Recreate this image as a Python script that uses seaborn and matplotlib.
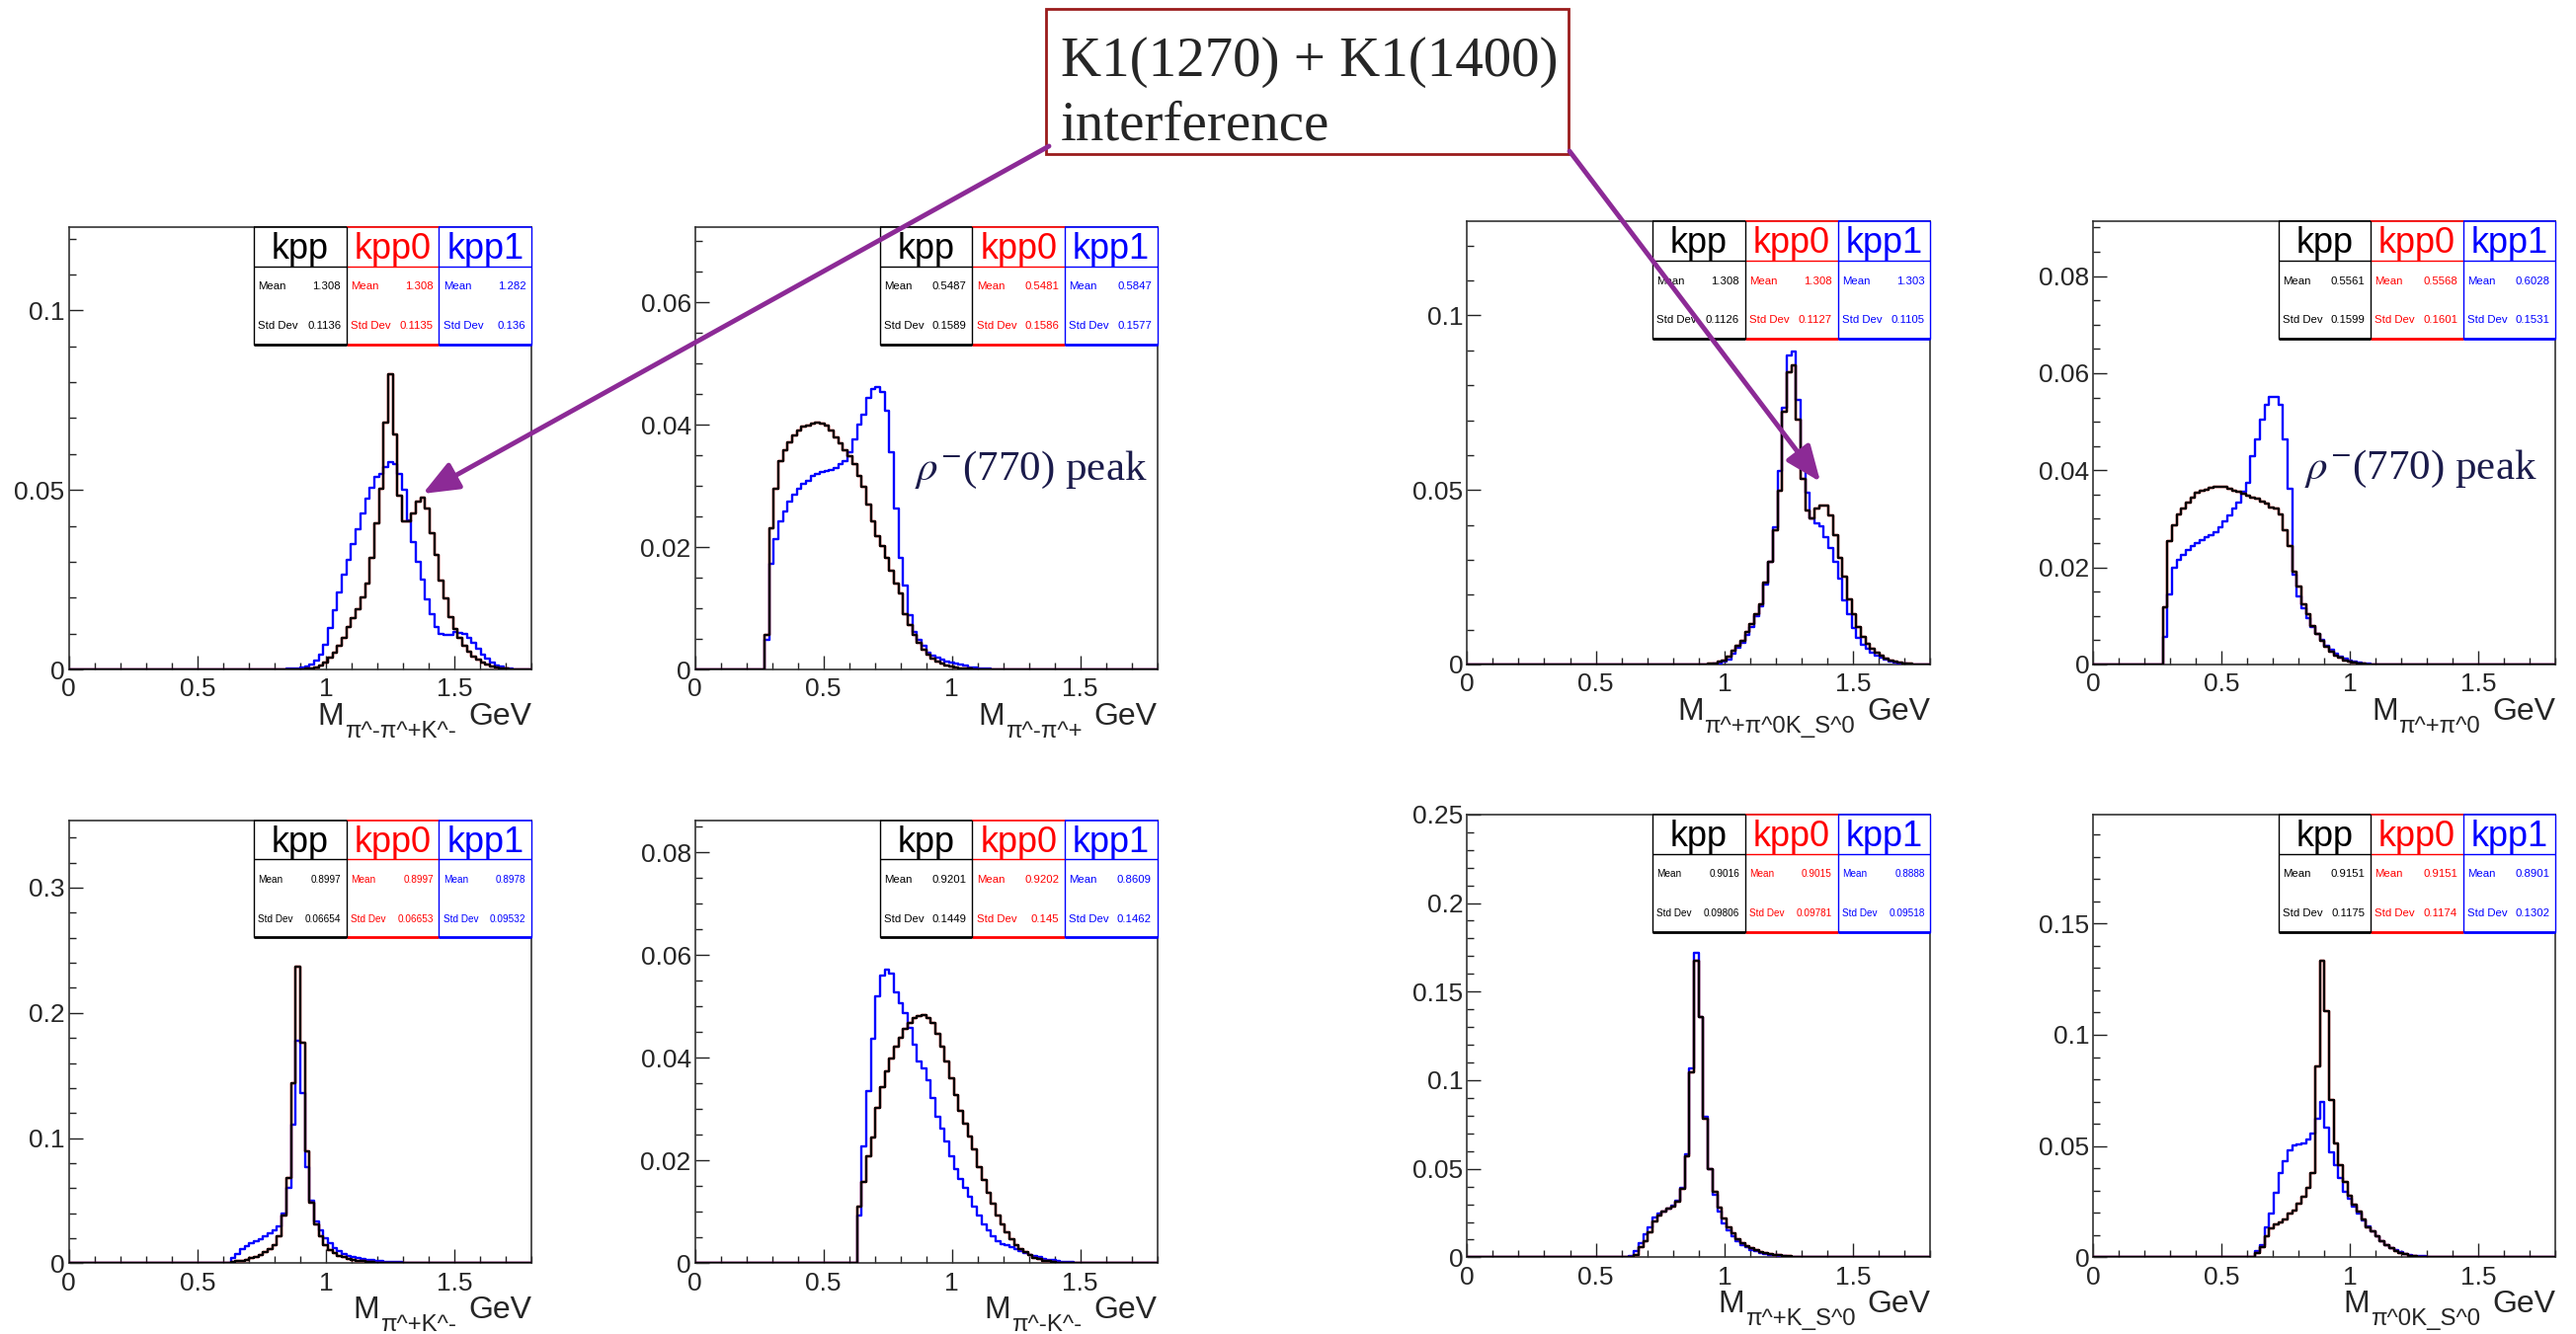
import numpy as np
import pandas as pd
import matplotlib
matplotlib.use("Agg")
import matplotlib.pyplot as plt
import seaborn as sns
from matplotlib.patches import Rectangle, FancyArrowPatch, ArrowStyle
from matplotlib.ticker import MultipleLocator, FuncFormatter

sns.set_style("white")
plt.rcParams["font.family"] = ["Liberation Sans", "DejaVu Sans"]
plt.rcParams["mathtext.fontset"] = "stix"

# ---------------- data ----------------
N_BINS = 100
X_MAX = 1.8

SERIES = ["kpp", "kpp0", "kpp1"]
SUBSCRIPTS = ["π^-π^+K^-", "π^-π^+", "π^+π^0K_S^0", "π^+π^0",
              "π^+K^-", "π^-K^-", "π^+K_S^0", "π^0K_S^0"]
Y_MAX = [0.1232, 0.0723, 0.127, 0.0913, 0.354, 0.0863, 0.25, 0.199]
Y_MAJOR = [0.05, 0.02, 0.05, 0.02, 0.1, 0.02, 0.05, 0.05]
Y_MINOR = [0.01, 0.005, 0.01, 0.005, 0.02, 0.005, 0.01, 0.01]

MEANS = [["1.308", "1.308", "1.282"], ["0.5487", "0.5481", "0.5847"],
         ["1.308", "1.308", "1.303"], ["0.5561", "0.5568", "0.6028"],
         ["0.8997", "0.8997", "0.8978"], ["0.9201", "0.9202", "0.8609"],
         ["0.9016", "0.9015", "0.8888"], ["0.9151", "0.9151", "0.8901"]]
STDS = [["0.1136", "0.1135", "0.136"], ["0.1589", "0.1586", "0.1577"],
        ["0.1126", "0.1127", "0.1105"], ["0.1599", "0.1601", "0.1531"],
        ["0.06654", "0.06653", "0.09532"], ["0.1449", "0.145", "0.1462"],
        ["0.09806", "0.09781", "0.09518"], ["0.1175", "0.1174", "0.1302"]]

# panel 1: M(pi- pi+ K-)
P1_KPP_START = 0.864
P1_KPP = [0.0001, 0.0001, 0.0001, 0.0002, 0.0004, 0.0006, 0.0012, 0.0020, 0.0032, 0.0046,
          0.0067, 0.0087, 0.0119, 0.0142, 0.0169, 0.0201, 0.0238, 0.0311, 0.0408, 0.0504,
          0.0687, 0.0822, 0.0655, 0.0485, 0.0412, 0.0412, 0.0435, 0.0467, 0.0479, 0.0449,
          0.0380, 0.0320, 0.0247, 0.0197, 0.0147, 0.0114, 0.0087, 0.0067, 0.0050, 0.0037,
          0.0027, 0.0019, 0.0013, 0.0008, 0.0005, 0.0003, 0.0002, 0.0001]
P1_KPP0_START = P1_KPP_START
P1_KPP0 = P1_KPP
P1_KPP1_START = 0.846
P1_KPP1 = [0.0002, 0.0003, 0.0004, 0.0006, 0.0009, 0.0014, 0.0024, 0.0040, 0.0070, 0.0115,
           0.0165, 0.0215, 0.0265, 0.0305, 0.0350, 0.0390, 0.0435, 0.0475, 0.0505, 0.0535,
           0.0545, 0.0565, 0.0578, 0.0572, 0.0545, 0.0500, 0.0415, 0.0355, 0.0300, 0.0250,
           0.0195, 0.0155, 0.0118, 0.0098, 0.0095, 0.0097, 0.0105, 0.0103, 0.0098, 0.0088,
           0.0075, 0.0058, 0.0042, 0.0030, 0.0020, 0.0012, 0.0007, 0.0004, 0.0002, 0.0001]

# panel 2: M(pi- pi+)
P2_KPP_START = 0.270
P2_KPP = [0.0056, 0.0231, 0.0296, 0.0341, 0.0358, 0.0371, 0.0383, 0.0391, 0.0397, 0.0399,
          0.0402, 0.0403, 0.0402, 0.0398, 0.0391, 0.0379, 0.0369, 0.0358, 0.0349, 0.0336,
          0.0317, 0.0298, 0.0269, 0.0242, 0.0218, 0.0202, 0.0183, 0.0161, 0.0140, 0.0124,
          0.0091, 0.0073, 0.0056, 0.0043, 0.0032, 0.0024, 0.0018, 0.0013, 0.0010, 0.0007,
          0.0005, 0.0003, 0.0002, 0.0001, 0.0001]
P2_KPP0_START = P2_KPP_START
P2_KPP0 = P2_KPP
P2_KPP1_START = 0.270
P2_KPP1 = [0.0048, 0.0172, 0.0213, 0.0242, 0.0258, 0.0274, 0.0285, 0.0296, 0.0304, 0.0309,
           0.0316, 0.0320, 0.0323, 0.0324, 0.0326, 0.0330, 0.0335, 0.0341, 0.0355, 0.0376,
           0.0400, 0.0417, 0.0444, 0.0459, 0.0462, 0.0454, 0.0423, 0.0355, 0.0263, 0.0183,
           0.0137, 0.0089, 0.0062, 0.0048, 0.0038, 0.0027, 0.0022, 0.0019, 0.0016, 0.0013,
           0.0011, 0.0009, 0.0008, 0.0006, 0.0004, 0.0003, 0.0002, 0.0001, 0.0001]

# panel 3: M(pi+ pi0 Ks)
P3_KPP_START = 0.900
P3_KPP = [0.0001, 0.0001, 0.0002, 0.0004, 0.0008, 0.0012, 0.0022, 0.0041, 0.0055, 0.0069,
          0.0092, 0.0116, 0.0144, 0.0173, 0.0234, 0.0295, 0.0385, 0.0498, 0.0725, 0.0838,
          0.0857, 0.0701, 0.0531, 0.0442, 0.0418, 0.0446, 0.0456, 0.0456, 0.0427, 0.0371,
          0.0305, 0.0253, 0.0187, 0.0144, 0.0107, 0.0078, 0.0059, 0.0045, 0.0034, 0.0025,
          0.0017, 0.0011, 0.0008, 0.0005, 0.0003, 0.0002, 0.0001]
P3_KPP0_START = P3_KPP_START
P3_KPP0 = P3_KPP
P3_KPP1_START = 0.918
P3_KPP1 = [0.0001, 0.0001, 0.0002, 0.0004, 0.0008, 0.0014, 0.0030, 0.0047, 0.0062, 0.0085,
           0.0108, 0.0138, 0.0168, 0.0228, 0.0295, 0.0394, 0.0555, 0.0735, 0.0885, 0.0898,
           0.0758, 0.0602, 0.0493, 0.0420, 0.0405, 0.0395, 0.0365, 0.0335, 0.0295, 0.0245,
           0.0185, 0.0144, 0.0105, 0.0075, 0.0057, 0.0044, 0.0034, 0.0026, 0.0019, 0.0013,
           0.0009, 0.0006, 0.0004, 0.0002, 0.0001]

# panel 4: M(pi+ pi0)
P4_KPP_START = 0.270
P4_KPP = [0.0117, 0.0255, 0.0287, 0.0310, 0.0321, 0.0334, 0.0344, 0.0353, 0.0357, 0.0359,
          0.0363, 0.0365, 0.0365, 0.0365, 0.0361, 0.0358, 0.0355, 0.0351, 0.0348, 0.0343,
          0.0341, 0.0336, 0.0331, 0.0324, 0.0321, 0.0309, 0.0277, 0.0243, 0.0192, 0.0161,
          0.0124, 0.0104, 0.0080, 0.0063, 0.0049, 0.0036, 0.0027, 0.0019, 0.0014, 0.0009,
          0.0006, 0.0004, 0.0003, 0.0002, 0.0001, 0.0001]
P4_KPP0_START = P4_KPP_START
P4_KPP0 = P4_KPP
P4_KPP1_START = 0.270
P4_KPP1 = [0.0056, 0.0144, 0.0199, 0.0216, 0.0226, 0.0236, 0.0243, 0.0251, 0.0256, 0.0263,
           0.0266, 0.0273, 0.0283, 0.0294, 0.0307, 0.0321, 0.0334, 0.0355, 0.0375, 0.0429,
           0.0463, 0.0504, 0.0534, 0.0551, 0.0551, 0.0534, 0.0463, 0.0361, 0.0185, 0.0140,
           0.0115, 0.0095, 0.0078, 0.0064, 0.0051, 0.0039, 0.0031, 0.0022, 0.0017, 0.0012,
           0.0009, 0.0006, 0.0004, 0.0003, 0.0002, 0.0001, 0.0001, 0.0001]

# panel 5: M(pi+ K-)
P5_KPP_START = 0.630
P5_KPP = [0.0009, 0.0015, 0.0021, 0.0030, 0.0039, 0.0054, 0.0068, 0.0089, 0.0113, 0.0143,
          0.0217, 0.0380, 0.0679, 0.1438, 0.2366, 0.1765, 0.0893, 0.0485, 0.0307, 0.0217,
          0.0143, 0.0107, 0.0083, 0.0062, 0.0048, 0.0036, 0.0027, 0.0021, 0.0015, 0.0012,
          0.0009, 0.0007, 0.0005, 0.0004, 0.0003, 0.0002, 0.0002, 0.0001, 0.0001]
P5_KPP0_START = P5_KPP_START
P5_KPP0 = P5_KPP
P5_KPP1_START = 0.630
P5_KPP1 = [0.0039, 0.0077, 0.0113, 0.0137, 0.0158, 0.0179, 0.0196, 0.0217, 0.0238, 0.0262,
           0.0292, 0.0396, 0.0604, 0.1110, 0.1780, 0.1363, 0.0768, 0.0500, 0.0336, 0.0262,
           0.0202, 0.0158, 0.0122, 0.0098, 0.0077, 0.0060, 0.0048, 0.0039, 0.0033, 0.0027,
           0.0024, 0.0020, 0.0017, 0.0014, 0.0012, 0.0010, 0.0008, 0.0006, 0.0005, 0.0004,
           0.0003, 0.0002]

# panel 6: M(pi- K-)
P6_KPP_START = 0.630
P6_KPP = [0.0111, 0.0159, 0.0209, 0.0245, 0.0303, 0.0343, 0.0373, 0.0399, 0.0422, 0.0440,
          0.0457, 0.0468, 0.0477, 0.0482, 0.0483, 0.0478, 0.0468, 0.0447, 0.0422, 0.0393,
          0.0360, 0.0327, 0.0297, 0.0272, 0.0247, 0.0222, 0.0188, 0.0163, 0.0138, 0.0116,
          0.0094, 0.0076, 0.0061, 0.0046, 0.0036, 0.0028, 0.0021, 0.0016, 0.0011, 0.0008,
          0.0005, 0.0004, 0.0002, 0.0001, 0.0001]
P6_KPP0_START = P6_KPP_START
P6_KPP0 = P6_KPP
P6_KPP1_START = 0.630
P6_KPP1 = [0.0093, 0.0227, 0.0336, 0.0437, 0.0520, 0.0560, 0.0571, 0.0564, 0.0528, 0.0506,
           0.0488, 0.0459, 0.0426, 0.0393, 0.0379, 0.0357, 0.0321, 0.0285, 0.0263, 0.0238,
           0.0209, 0.0183, 0.0165, 0.0147, 0.0129, 0.0111, 0.0093, 0.0075, 0.0064, 0.0053,
           0.0043, 0.0038, 0.0035, 0.0031, 0.0028, 0.0024, 0.0020, 0.0017, 0.0014, 0.0012,
           0.0009, 0.0007, 0.0006, 0.0004, 0.0003, 0.0002, 0.0002, 0.0001, 0.0001]

# panel 7: M(pi+ Ks)
P7_KPP_START = 0.648
P7_KPP = [0.0015, 0.0057, 0.0092, 0.0141, 0.0204, 0.0235, 0.0256, 0.0273, 0.0288, 0.0315,
          0.0387, 0.0571, 0.1044, 0.1674, 0.1359, 0.0782, 0.0498, 0.0372, 0.0282, 0.0218,
          0.0172, 0.0134, 0.0105, 0.0082, 0.0063, 0.0050, 0.0040, 0.0032, 0.0025, 0.0019,
          0.0015, 0.0011, 0.0008, 0.0006, 0.0004, 0.0003, 0.0002, 0.0002, 0.0001]
P7_KPP0_START = P7_KPP_START
P7_KPP0 = P7_KPP
P7_KPP1_START = 0.630
P7_KPP1 = [0.0008, 0.0036, 0.0078, 0.0130, 0.0172, 0.0225, 0.0246, 0.0260, 0.0273, 0.0294,
           0.0319, 0.0393, 0.0582, 0.1065, 0.1716, 0.1359, 0.0792, 0.0498, 0.0351, 0.0256,
           0.0193, 0.0151, 0.0120, 0.0092, 0.0071, 0.0057, 0.0044, 0.0034, 0.0025, 0.0019,
           0.0015, 0.0011, 0.0008, 0.0006, 0.0004, 0.0003, 0.0002, 0.0002, 0.0001, 0.0001]

# panel 8: M(pi0 Ks)
P8_KPP_START = 0.630
P8_KPP = [0.0020, 0.0045, 0.0095, 0.0129, 0.0149, 0.0157, 0.0171, 0.0196, 0.0212, 0.0241,
          0.0271, 0.0313, 0.0380, 0.0860, 0.1333, 0.1107, 0.0709, 0.0513, 0.0413, 0.0338,
          0.0279, 0.0237, 0.0204, 0.0171, 0.0137, 0.0117, 0.0095, 0.0074, 0.0057, 0.0042,
          0.0028, 0.0020, 0.0013, 0.0008, 0.0005, 0.0003, 0.0002, 0.0001, 0.0001]
P8_KPP0_START = P8_KPP_START
P8_KPP0 = P8_KPP
P8_KPP1_START = 0.630
P8_KPP1 = [0.0028, 0.0054, 0.0134, 0.0196, 0.0288, 0.0380, 0.0430, 0.0480, 0.0502, 0.0508,
           0.0513, 0.0530, 0.0555, 0.0622, 0.0697, 0.0585, 0.0472, 0.0413, 0.0355, 0.0296,
           0.0263, 0.0229, 0.0196, 0.0167, 0.0140, 0.0117, 0.0095, 0.0074, 0.0057, 0.0042,
           0.0032, 0.0023, 0.0017, 0.0012, 0.0008, 0.0006, 0.0004, 0.0003, 0.0002, 0.0001,
           0.0001]

HIST = [
    [(P1_KPP_START, P1_KPP), (P1_KPP0_START, P1_KPP0), (P1_KPP1_START, P1_KPP1)],
    [(P2_KPP_START, P2_KPP), (P2_KPP0_START, P2_KPP0), (P2_KPP1_START, P2_KPP1)],
    [(P3_KPP_START, P3_KPP), (P3_KPP0_START, P3_KPP0), (P3_KPP1_START, P3_KPP1)],
    [(P4_KPP_START, P4_KPP), (P4_KPP0_START, P4_KPP0), (P4_KPP1_START, P4_KPP1)],
    [(P5_KPP_START, P5_KPP), (P5_KPP0_START, P5_KPP0), (P5_KPP1_START, P5_KPP1)],
    [(P6_KPP_START, P6_KPP), (P6_KPP0_START, P6_KPP0), (P6_KPP1_START, P6_KPP1)],
    [(P7_KPP_START, P7_KPP), (P7_KPP0_START, P7_KPP0), (P7_KPP1_START, P7_KPP1)],
    [(P8_KPP_START, P8_KPP), (P8_KPP0_START, P8_KPP0), (P8_KPP1_START, P8_KPP1)],
]

# ---------------- layout (pixels) ----------------
W_PX, H_PX = 2608, 1351
COLS_X = [(69.6, 538.2), (703.8, 1171.6), (1485.3, 1954.3), (2119.4, 2587.3)]
ROWS_Y = [[(230, 678), (230, 678), (224, 673), (224, 673)],
          [(830.5, 1279.4), (830.5, 1279.4), (824.8, 1273.4), (824.8, 1273.4)]]
COLORS = {"kpp": "#000000", "kpp0": "#ff0000", "kpp1": "#0000ff"}
PURPLE = "#8c2a96"


def fx(px):
    return px / W_PX


def fy(py):
    return 1.0 - py / H_PX


fig = plt.figure(figsize=(W_PX / 100, H_PX / 100), dpi=100)
fig.patch.set_facecolor("white")

bin_w = X_MAX / N_BINS
centers = (np.arange(N_BINS) + 0.5) * bin_w
fmt = FuncFormatter(lambda v, p: f"{v:g}")

for k in range(8):
    row, col = divmod(k, 4)
    x0, x1 = COLS_X[col]
    y0, y1 = ROWS_Y[row][col]
    ax = fig.add_axes([fx(x0), fy(y1), (x1 - x0) / W_PX, (y1 - y0) / H_PX])
    ax_h = y1 - y0

    # histograms: draw kpp1, kpp0, then kpp (black on top)
    for si in (2, 1, 0):
        start, vals = HIST[k][si]
        w = np.zeros(N_BINS)
        i0 = int(round(start / bin_w))
        w[i0:i0 + len(vals)] = vals
        df = pd.DataFrame({"m": centers, "w": w})
        sns.histplot(data=df, x="m", weights="w", bins=N_BINS, binrange=(0.0, X_MAX),
                     element="step", fill=False, color=COLORS[SERIES[si]],
                     linewidth=1.7, ax=ax, zorder=3 + (2 - si))

    ax.set_xlim(0, X_MAX)
    ax.set_ylim(0, Y_MAX[k])
    ax.set_xlabel("")
    ax.set_ylabel("")
    ax.xaxis.set_major_locator(MultipleLocator(0.5))
    ax.xaxis.set_minor_locator(MultipleLocator(0.1))
    ax.yaxis.set_major_locator(MultipleLocator(Y_MAJOR[k]))
    ax.yaxis.set_minor_locator(MultipleLocator(Y_MINOR[k]))
    ax.xaxis.set_major_formatter(fmt)
    ax.yaxis.set_major_formatter(fmt)
    ax.tick_params(which="both", direction="in", top=False, right=False,
                   left=True, bottom=True, color="#222222", width=1.0)
    ax.tick_params(which="major", length=10, labelsize=19)
    ax.tick_params(which="minor", length=5)
    ax.tick_params(axis="x", pad=6)
    ax.tick_params(axis="y", pad=3)
    for s in ax.spines.values():
        s.set_color("#333333")
        s.set_linewidth(1.2)
        s.set_visible(True)

    # stat boxes (text shrinks when the numbers are long, as in ROOT)
    B, Hd = 0.735, 0.911
    hdr_fs = 26
    longest = max(len(v) for v in STDS[k] + MEANS[k])
    st_fs = 8.2 if longest <= 6 else 7.2
    for j, name in enumerate(SERIES):
        c = COLORS[name]
        bx = 0.4 + 0.2 * j
        ax.add_patch(Rectangle((bx, B), 0.2, 1 - B, transform=ax.transAxes,
                               facecolor="white", edgecolor="none", zorder=6,
                               clip_on=False))
        for yy, lw in ((1.0, 1.2), (Hd, 1.0), (B, 2.0)):
            ax.plot([bx, bx + 0.2], [yy, yy], transform=ax.transAxes, color=c,
                    lw=lw, zorder=7, clip_on=False, solid_capstyle="butt")
        ax.text(bx + 0.1, (Hd + 1.0) / 2 - 0.006, name, transform=ax.transAxes,
                ha="center", va="center", fontsize=hdr_fs, color=c, zorder=8)
        ax.text(bx + 0.009, 0.865, "Mean", transform=ax.transAxes, ha="left",
                va="center", fontsize=st_fs, color=c, zorder=8)
        ax.text(bx + 0.2 - 0.012, 0.865, MEANS[k][j], transform=ax.transAxes,
                ha="right", va="center", fontsize=st_fs, color=c, zorder=8)
        ax.text(bx + 0.009, 0.777, "Std Dev", transform=ax.transAxes, ha="left",
                va="center", fontsize=st_fs, color=c, zorder=8)
        ax.text(bx + 0.2 - 0.012, 0.777, STDS[k][j], transform=ax.transAxes,
                ha="right", va="center", fontsize=st_fs, color=c, zorder=8)
    for vx, c in ((0.4, "#000000"), (0.6, "#000000"), (0.8, "#0000ff"), (1.0, "#0000ff")):
        ax.plot([vx, vx], [B, 1.0], transform=ax.transAxes, color=c, lw=1.0,
                zorder=7, clip_on=False)

    # axis label: M_{sub} GeV (ROOT style, right aligned)
    lab_fs = 23
    sub_fs = lab_fs * 0.75
    yb = -56 / ax_h
    gev = ax.text(1.0, yb, "GeV", transform=ax.transAxes, ha="right",
                  va="baseline", fontsize=lab_fs)
    sub = ax.annotate(SUBSCRIPTS[k], xy=(0, yb), xycoords=(gev, ax.transAxes),
                      xytext=(-12, -13), textcoords="offset pixels", ha="right",
                      va="baseline", fontsize=sub_fs, annotation_clip=False)
    ax.annotate("M", xy=(0, yb), xycoords=(sub, ax.transAxes), xytext=(-1, 0),
                textcoords="offset pixels", ha="right", va="baseline",
                fontsize=lab_fs, annotation_clip=False)

# rho peak labels
for (px, py) in ((926, 486), (2333, 485)):
    fig.text(fx(px), fy(py), r"$\rho^{-}$(770) peak", fontsize=31,
             family=["Liberation Serif", "DejaVu Serif"], color="#1b1b4b",
             ha="left", va="baseline", zorder=12)

# annotation box
fig.add_artist(Rectangle((fx(1059), fy(156)), (1588 - 1059) / W_PX, (156 - 9) / H_PX,
                         transform=fig.transFigure, facecolor="white",
                         edgecolor="#9a1c1c", lw=2.0, zorder=11))
fig.text(fx(1074), fy(77), "K1(1270) + K1(1400)", fontsize=41,
         family=["Liberation Serif", "DejaVu Serif"], ha="left", va="baseline",
         zorder=12)
fig.text(fx(1074), fy(142), "interference", fontsize=41,
         family=["Liberation Serif", "DejaVu Serif"], ha="left", va="baseline",
         zorder=12)

# purple arrows
style = ArrowStyle("-|>", head_length=1.1, head_width=0.45)
for (a, b) in (((1062, 148), (428, 500)), ((1589, 153), (1843, 488))):
    fig.add_artist(FancyArrowPatch((fx(a[0]), fy(a[1])), (fx(b[0]), fy(b[1])),
                                   transform=fig.transFigure, arrowstyle=style,
                                   mutation_scale=20, color=PURPLE, lw=3.5,
                                   shrinkA=0, shrinkB=0, zorder=13))

fig.savefig("out.png", dpi=100, facecolor="white")
